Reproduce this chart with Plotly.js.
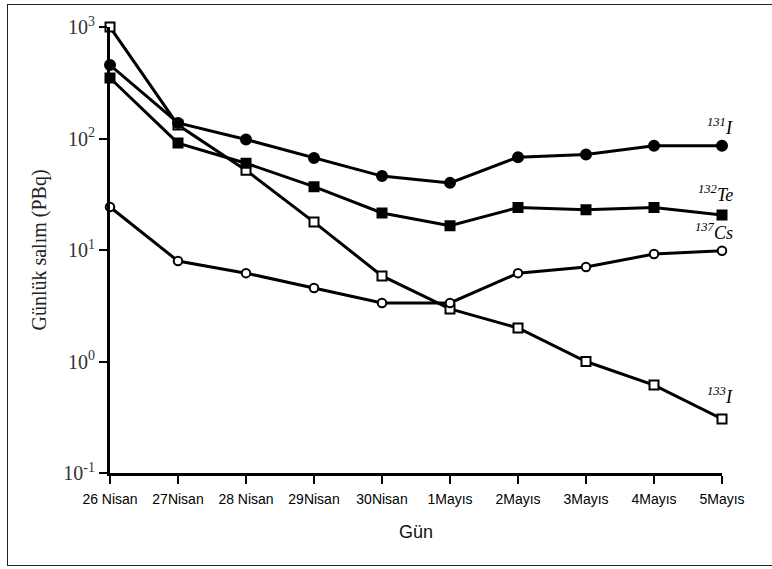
<!DOCTYPE html>
<html>
<head>
<meta charset="utf-8">
<script src="https://cdn.plot.ly/plotly-3.0.1.min.js"></script>
<style>
  html, body { margin: 0; padding: 0; background: #fff; }
  #frame { position: absolute; left: 7px; top: 4px; width: 780px; height: 562px; border: 1.5px solid #222; box-sizing: border-box; }
  #chart { position: absolute; left: 0; top: 0; width: 772px; height: 569px; }
</style>
</head>
<body>
<div id="frame"></div>
<div id="chart"></div>
<script>
const days = ["26 Nisan", "27Nisan", "28 Nisan", "29Nisan", "30Nisan", "1Mayıs", "2Mayıs", "3Mayıs", "4Mayıs", "5Mayıs"];
const i131 = [456, 138, 98, 67, 46, 40, 68, 72, 86, 86];
const te132 = [349, 91, 60, 37, 21.5, 16.5, 24, 23, 24, 20.6];
const i133 = [1000, 132, 52, 17.8, 5.85, 2.96, 2.0, 1.0, 0.615, 0.305];
const cs137 = [24.3, 7.96, 6.2, 4.56, 3.35, 3.35, 6.2, 7.05, 9.2, 9.86];
const yTickVals = [0.1, 1, 10, 100, 1000];
const yTickText = ["10<sup>-1</sup>", "10<sup>0</sup>", "10<sup>1</sup>", "10<sup>2</sup>", "10<sup>3</sup>"];
const labels = [
  {text: "<i><sup>131</sup>I</i>", series: i131, yshift: 19},
  {text: "<i><sup>132</sup>Te</i>", series: te132, yshift: 22},
  {text: "<i><sup>137</sup>Cs</i>", series: cs137, yshift: 19},
  {text: "<i><sup>133</sup>I</i>", series: i133, yshift: 24}
];

const xs = days.map((d, i) => i);
function trace(y, symbol, fill) {
  return {
    x: xs, y: y, type: "scatter", mode: "lines+markers", cliponaxis: false,
    line: {color: "#000", width: 3},
    marker: {symbol: symbol, size: symbol === "square" ? 9 : (fill === "#000" ? 10 : 8.5), color: fill, line: {color: "#000", width: 2}},
    showlegend: false, hoverinfo: "skip"
  };
}
const data = [
  trace(i133, "square", "#fff"),
  trace(cs137, "circle", "#fff"),
  trace(te132, "square", "#000"),
  trace(i131, "circle", "#000")
];
const layout = {
  width: 772, height: 569,
  margin: {l: 110, r: 50, t: 27, b: 96},
  paper_bgcolor: "rgba(0,0,0,0)", plot_bgcolor: "rgba(0,0,0,0)",
  showlegend: false,
  xaxis: {
    range: [0, 9], tickvals: xs, ticktext: days,
    showgrid: false, zeroline: false, showline: true, linecolor: "#000", linewidth: 3,
    ticks: "outside", ticklen: 8, tickwidth: 2, tickcolor: "#000", ticklabelstandoff: 3,
    tickfont: {family: "Liberation Sans, Arial, sans-serif", size: 14, color: "#000"},
    title: {text: "Gün", font: {family: "Liberation Sans, Arial, sans-serif", size: 18, color: "#111"}, standoff: 20}
  },
  yaxis: {
    type: "log", range: [-1, 3], tickvals: yTickVals, ticktext: yTickText,
    showgrid: false, zeroline: false, showline: true, linecolor: "#000", linewidth: 3,
    ticks: "outside", ticklen: 8, tickwidth: 2, tickcolor: "#000",
    tickfont: {family: "Liberation Serif, Times New Roman, serif", size: 20, color: "#333"},
    title: {text: "Günlük salım (PBq)", font: {family: "Liberation Serif, Times New Roman, serif", size: 20, color: "#222"}, standoff: 12}
  },
  annotations: labels.map(l => ({
    x: days.length - 1, y: Math.log10(l.series[l.series.length - 1]),
    xref: "x", yref: "y", text: l.text, showarrow: false,
    xanchor: "right", yanchor: "middle", xshift: 13, yshift: l.yshift,
    font: {family: "Liberation Serif, Times New Roman, serif", size: 18, color: "#000"}
  }))
};
Plotly.newPlot("chart", data, layout, {displayModeBar: false, staticPlot: true});
</script>
</body>
</html>
